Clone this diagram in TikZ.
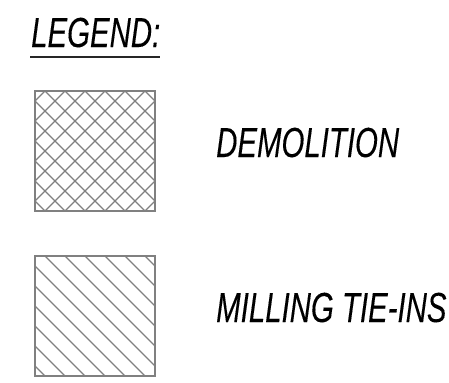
\documentclass[tikz,border=0pt]{standalone}
\usepackage{fontspec}
\newfontfamily\legendfont{Liberation Sans}[FakeStretch=0.70, FakeBold=0.15]
\definecolor{hatchgray}{RGB}{128,128,128}
\tikzset{
  legendtext/.style = {anchor=base west, inner sep=0pt, font=\legendfont\itshape\fontsize{42bp}{50bp}\selectfont},
  hatchbox/.style = {draw=hatchgray, line width=1.6bp, minimum size=120bp, inner sep=0pt},
  hatchline/.style = {draw=hatchgray, line width=1.3bp}
}

\begin{document}
\begin{tikzpicture}[x = 1bp, y = -1bp]
\useasboundingbox (0,0) rectangle (449,382);
\node[legendtext] (legendtitle) at (31,47) {LEGEND:};
\draw[black!85, line width = 1.8bp] (legendtitle.base west) ++(-1,10) -- ++(130,0);
% cross hatch
\begin{scope}[shift = {(35,91)}]
\clip (0,0) rectangle (120,120);
\foreach \c in {10,30,...,230} \draw[hatchline] (\c+10,-10) -- (\c-130,130);
\foreach \c in {-110,-90,...,110} \draw[hatchline] (-10,\c-10) -- (130,\c+130);
\end{scope}
\node[hatchbox] (demobox) at (95,151) {};
\node[legendtext] (demolabel) at (216,157) {DEMOLITION};
% single hatch
\begin{scope}[shift = {(35,256)}]
\clip (0,0) rectangle (120,120);
\foreach \c in {-110,-90,...,110} \draw[hatchline] (-10,\c-10) -- (130,\c+130);
\end{scope}
\node[hatchbox] (millbox) at (95,316) {};
\node[legendtext] (millinglabel) at (216,322) {MILLING TIE-INS};
\end{tikzpicture}
\end{document}
